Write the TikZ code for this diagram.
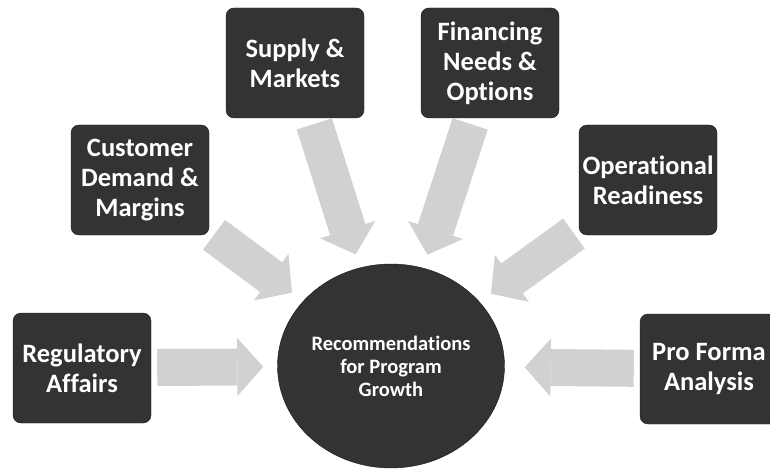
\documentclass[tikz,border=0pt]{standalone}
\usepackage{fontspec}
\setmainfont{Carlito}[Ligatures=NoCommon]
\usetikzlibrary{shapes.geometric,arrows.meta}
\begin{document}
\begin{tikzpicture}[x=1pt,y=-1pt,
  main node/.style={fill=black!80,draw=black!90,rounded corners=8pt,minimum width=138pt,minimum height=110pt,inner sep=0pt,text=white,align=center,font=\bfseries\fontsize{26.5}{30}\selectfont},
  hub node/.style={ellipse,fill=black!80,draw=black!90,minimum width=227pt,minimum height=204pt,inner sep=0pt,text=white,align=center,font=\bfseries\fontsize{20.5}{23}\selectfont},
  big arrow/.style={color=black!18,line width=37pt,-{Triangle[length=26pt,width=58pt,line width=0pt]},shorten <=6pt,shorten >=14pt}]
  \useasboundingbox (0,0) rectangle (770,470);

  \node[hub node] (rec) at (391,366) {Recommendations\\for Program\\Growth};
  \node[main node] (sup) at (295,63) {Supply \&\\Markets};
  \node[main node] (fin) at (490,63) {Financing\\Needs \&\\Options};
  \node[main node] (cus) at (140,180) {Customer\\Demand \&\\Margins};
  \node[main node] (ope) at (648,180) {Operational\\Readiness};
  \node[main node] (reg) at (82,368) {Regulatory\\Affairs};
  \node[main node] (pro) at (709,369) {Pro Forma\\Analysis};

  \path[big arrow]
    (sup) edge (rec)
    (fin) edge (rec)
    (cus) edge (rec)
    (ope) edge (rec)
    (reg) edge (rec)
    (pro) edge[shorten >=20pt] (rec);
\end{tikzpicture}
\end{document}
